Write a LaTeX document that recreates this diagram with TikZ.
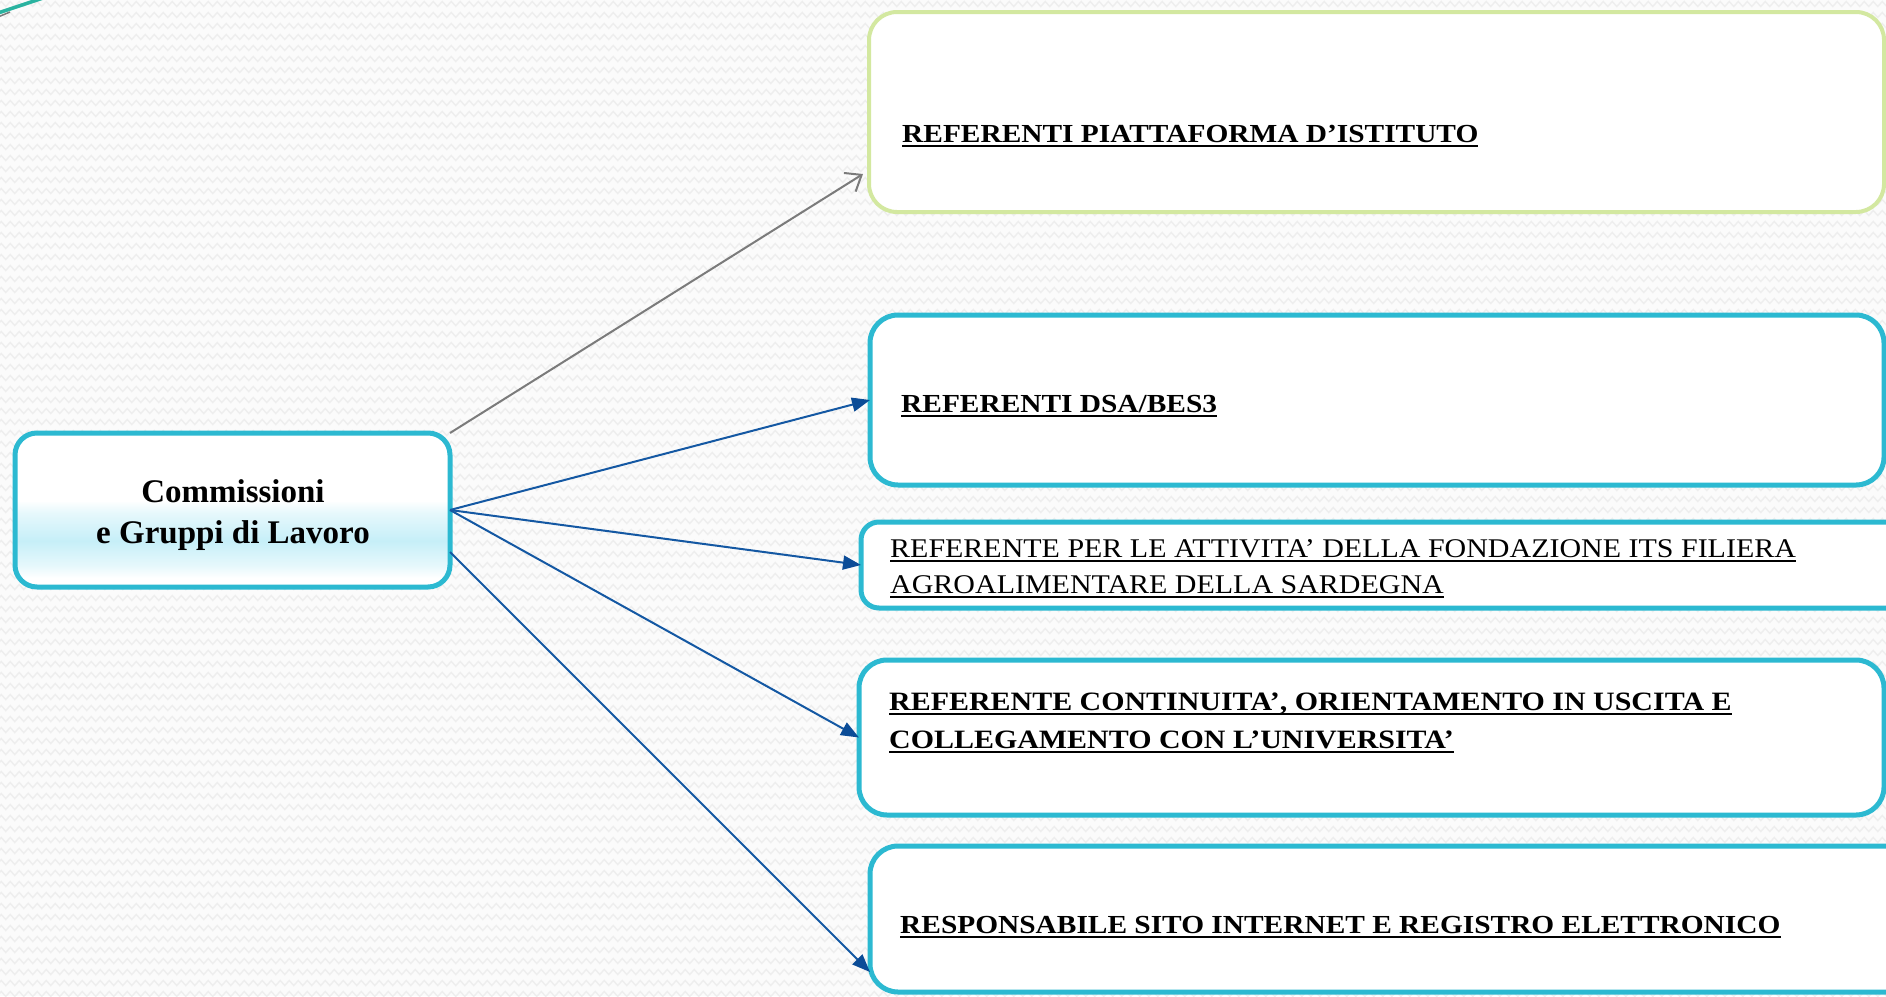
\documentclass[tikz,border=0pt]{standalone}
\usepackage{fontspec}
\setmainfont{Liberation Serif}
\newfontfamily\boxfont[FakeStretch=1.13]{Liberation Serif}
\newfontfamily\boxfontreg[FakeStretch=1.11]{Liberation Serif}
\usetikzlibrary{arrows.meta,decorations.pathmorphing,calc}
\definecolor{cyanb}{HTML}{2CB9D1}
\definecolor{greenb}{HTML}{D3E8A0}
\definecolor{arrowblue}{HTML}{1458A3}
\definecolor{headblue}{HTML}{0B4C97}
\definecolor{grayarrow}{HTML}{7B7B7B}
\definecolor{bgzig}{HTML}{EEEEEE}
\definecolor{bgbase}{HTML}{FBFBFB}
\definecolor{cA}{HTML}{E6F8FC}
\definecolor{cB}{HTML}{C6EFF8}
\definecolor{tealdeco}{HTML}{2AB3A0}
\pgfdeclareverticalshading{mainshade}{100bp}{color(0bp)=(white); color(25bp)=(white); color(28bp)=(white); color(32bp)=(cA); color(40bp)=(cB); color(49bp)=(cA); color(53bp)=(white); color(100bp)=(white)}
\newcommand\uln[1]{\setbox0=\hbox{#1}\rlap{\rule[-5pt]{\wd0}{2.2pt}}\box0}
\begin{document}
\begin{tikzpicture}[x=1pt,y=-1pt,
  box/.style={draw=cyanb, line width=5pt, fill=white, rounded corners=28pt, inner sep=0pt, outer sep=0pt, anchor=north west},
  barrow/.style={draw=arrowblue, line width=2pt, -{Triangle[length=18pt,width=14pt,color=headblue]}},
  garrow/.style={draw=grayarrow, line width=2pt, -{Straight Barb[length=14pt,width=22pt]}},
  txtb/.style={inner sep=0pt, anchor=base west, align=left, font=\boxfont\fontsize{26}{38}\selectfont\bfseries},
  txtr/.style={inner sep=0pt, anchor=base west, align=left, font=\boxfontreg\fontsize{27}{36}\selectfont},
  bgz/.style={draw=bgzig, line width=1.4pt, decorate, decoration={zigzag,segment length=9pt,amplitude=2.5pt}}
]
\useasboundingbox (0,0) rectangle (1886,996);
\clip (0,0) rectangle (1886,996);
\fill[bgbase] (0,0) rectangle (1886,996);
\foreach \yy in {4,15,...,1000} \draw[bgz] (-10,\yy) -- (1900,\yy);
% corner decoration
\draw[tealdeco, line width=3.5pt] (-2,13) -- (46,-3);
\draw[grayarrow, line width=1.5pt] (-2,17) -- (10,12);
% boxes
\node[box, shade, shading=mainshade, rounded corners=22pt, minimum width=435pt, minimum height=154pt] (main) at (15,433) {};
\node[box, draw=greenb, line width=4pt, minimum width=1015pt, minimum height=200pt] (b1) at (869,12) {};
\node[box, minimum width=1014pt, minimum height=170pt] (b2) at (870,315) {};
\node[box, rounded corners=18pt, minimum width=1060pt, minimum height=86pt] (b3) at (861,522) {};
\node[box, minimum width=1025pt, minimum height=155pt] (b4) at (859,660) {};
\node[box, minimum width=1050pt, minimum height=146pt] (b5) at (870,846) {};
% texts (multi-line nodes: base = last line)
\node[inner sep=0pt, anchor=base, align=center, font=\fontsize{33}{41}\selectfont\bfseries] (mt) at (233,543) {Commissioni\\e Gruppi di Lavoro};
\node[txtb] (t1) at (902,142) {\uln{REFERENTI PIATTAFORMA D’ISTITUTO}};
\node[txtb] (t2) at (901,412) {\uln{REFERENTI DSA/BES3}};
\node[txtr] (t3) at (890,593) {\uln{REFERENTE PER LE ATTIVITA’ DELLA FONDAZIONE ITS FILIERA}\\\uln{AGROALIMENTARE DELLA SARDEGNA}};
\node[txtb, font=\boxfont\fontsize{26.5}{38}\selectfont\bfseries] (t4) at (889,748) {\uln{REFERENTE CONTINUITA’, ORIENTAMENTO IN USCITA E}\\\uln{COLLEGAMENTO CON L’UNIVERSITA’}};
\node[txtb] (t5) at (900,933) {\uln{RESPONSABILE SITO INTERNET E REGISTRO ELETTRONICO}};
% connectors
\draw[garrow] (main.north east) -- ([xshift=-6pt,yshift=-62pt]b1.west);
\draw[barrow] (main.east) -- (b2.west);
\draw[barrow] (main.east) -- (b3.west);
\draw[barrow] (main.east) -- (b4.west);
\draw[barrow] ([yshift=-42pt]main.east) -- ([yshift=-53pt]b5.west);
\end{tikzpicture}
\end{document}
